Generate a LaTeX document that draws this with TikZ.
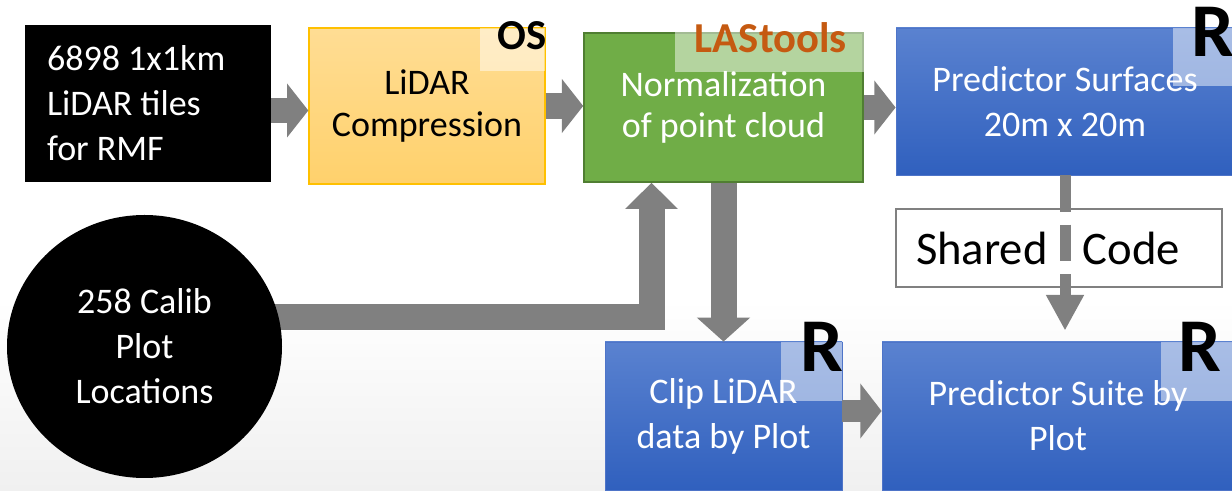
\documentclass[tikz,border=0pt]{standalone}
\usepackage{fontspec}
\setmainfont{Carlito}
\usetikzlibrary{arrows.meta,shapes.geometric,backgrounds}
\definecolor{arrowgray}{RGB}{128,128,128}
\definecolor{orgtop}{RGB}{255,221,148}
\definecolor{orgbot}{RGB}{255,209,108}
\definecolor{orgline}{RGB}{255,192,0}
\definecolor{grnfill}{RGB}{112,173,71}
\definecolor{grnline}{RGB}{80,126,50}
\definecolor{blutop}{RGB}{90,130,208}
\definecolor{blubot}{RGB}{48,96,190}
\definecolor{bluline}{RGB}{78,116,200}
\definecolor{lastext}{RGB}{197,90,17}
\definecolor{bgbot}{RGB}{240,240,240}
\tikzset{
  base/.style={inner sep=0pt,align=center,font=\fontsize{27}{33.75}\selectfont},
  inbox/.style={base,fill=black,text=white,align=flush left,inner xsep=16.5pt,text width=151.5pt,
                minimum height=117.75pt},
  orgbox/.style={base,top color=orgtop,bottom color=orgbot,draw=orgline,line width=1pt,
                 minimum width=177pt,minimum height=117pt,font=\fontsize{27}{32}\selectfont},
  grnbox/.style={base,fill=grnfill,draw=grnline,line width=1.2pt,text=white,
                 minimum width=209.25pt,minimum height=111.75pt,
                 font=\fontsize{27}{30.5}\selectfont},
  blubox/.style={base,top color=blutop,bottom color=blubot,draw=bluline,line width=.6pt,text=white},
  codebox/.style={base,fill=white,draw=arrowgray,line width=1.1pt,align=flush left,inner xsep=15pt,
                  text width=214.5pt,minimum height=58.5pt,font=\fontsize{35}{40}\selectfont},
  calibnode/.style={base,ellipse,fill=black,text=white,minimum width=206.25pt,minimum height=197.25pt},
  glaze/.style={fill=white,fill opacity=.48,inner sep=0pt,anchor=north east},
  tag/.style={inner sep=0pt,font=\fontsize{32}{36}\selectfont\bfseries},
  rtag/.style={inner sep=0pt,font=\fontsize{57}{60}\selectfont\bfseries},
  blk/.style={draw=arrowgray,line width=19pt,-{Triangle[length=16pt,width=39.75pt]}},
  dashblk/.style={draw=arrowgray,line width=8.25pt,dash pattern=on 27.5pt off 9.5pt,
                  -{Triangle[length=26.75pt,width=26.7pt]}},
}

\begin{document}
\begin{tikzpicture}[x=0.75pt,y=-0.75pt]
  \useasboundingbox (0,0) rectangle (1232,491);
  \node[inbox] (tiles) at (148,103.5) {6898 1x1km\\LiDAR tiles\\for RMF};
  \node[orgbox] (compress) at (427,106) {LiDAR\\Compression};
  \node[grnbox] (norm) at (723.5,107.5) {Normalization\\of point cloud};
  \node[blubox,minimum width=253.5pt,minimum height=110.25pt] (surf) at (1065,101.5) {Predictor Surfaces\\20m x 20m};
  \node[codebox] (shared) at (1059,248) {Shared\hspace{.75em}Code};
  \node[calibnode] (calib) at (144.5,346.5) {258 Calib\\Plot\\Locations};
  \node[blubox,minimum width=177.75pt,minimum height=111pt] (clip) at (723.5,416) {Clip LiDAR\\data by Plot};
  \node[blubox,minimum width=264pt,minimum height=111pt] (suite) at (1058,416) {Predictor Suite by\\Plot};

  % tool tags in the box corners
  \node[glaze,minimum width=48.75pt,minimum height=32.25pt] (osglaze) at (compress.north east) {};
  \node[glaze,minimum width=141.75pt,minimum height=30pt] (lasglaze) at (norm.north east) {};
  \node[glaze,minimum width=45.75pt,minimum height=43.5pt] (surfglaze) at (surf.north east) {};
  \node[glaze,minimum width=45.75pt,minimum height=44.25pt] (clipglaze) at (clip.north east) {};
  \node[glaze,minimum width=54.75pt,minimum height=44.25pt] (suiteglaze) at (suite.north east) {};
  \node[tag,anchor=base east] (os) at (547,50) {OS};
  \node[tag,anchor=base east,text=lastext] (las) at (847,53) {LAStools};
  \node[rtag,anchor=base west] (rsurf) at (1191,57) {R};
  \node[rtag,anchor=base east] (rclip) at (844,372) {R};
  \node[rtag,anchor=base east] (rsuite) at (1222,372) {R};

  \coordinate (a1) at ([yshift=-5.25pt]tiles.east);
  \coordinate (a4) at ([yshift=3.75pt]clip.east);
  \draw[blk] (a1) -- (a1 -| compress.west);
  \draw[blk] (compress.east) -- (compress.east -| norm.west);
  \draw[blk] (norm.east) -- (norm.east -| surf.west);
  \draw[blk,line width=19.5pt,-{Triangle[length=18pt,width=39pt]}] (norm.south) -- (clip.north);
  \draw[blk,line width=16.5pt,-{Triangle[length=16pt,width=40.5pt]}] (a4) -- (a4 -| suite.west);
  \draw[dashblk] (surf.south) -- ([yshift=8.25pt]surf.south |- suite.north);

  \begin{scope}[on background layer]
    \fill[white] (0,0) rectangle (1232,300);
    \shade[top color=white,bottom color=bgbot] (0,299) rectangle (1232,491);
    \draw[blk,line width=19.5pt,line join=miter,-{Triangle[length=19.5pt,width=38.25pt]}]
      ([yshift=22pt]calib.center) -| ([xshift=-54pt]norm.south);
  \end{scope}
\end{tikzpicture}
\end{document}
